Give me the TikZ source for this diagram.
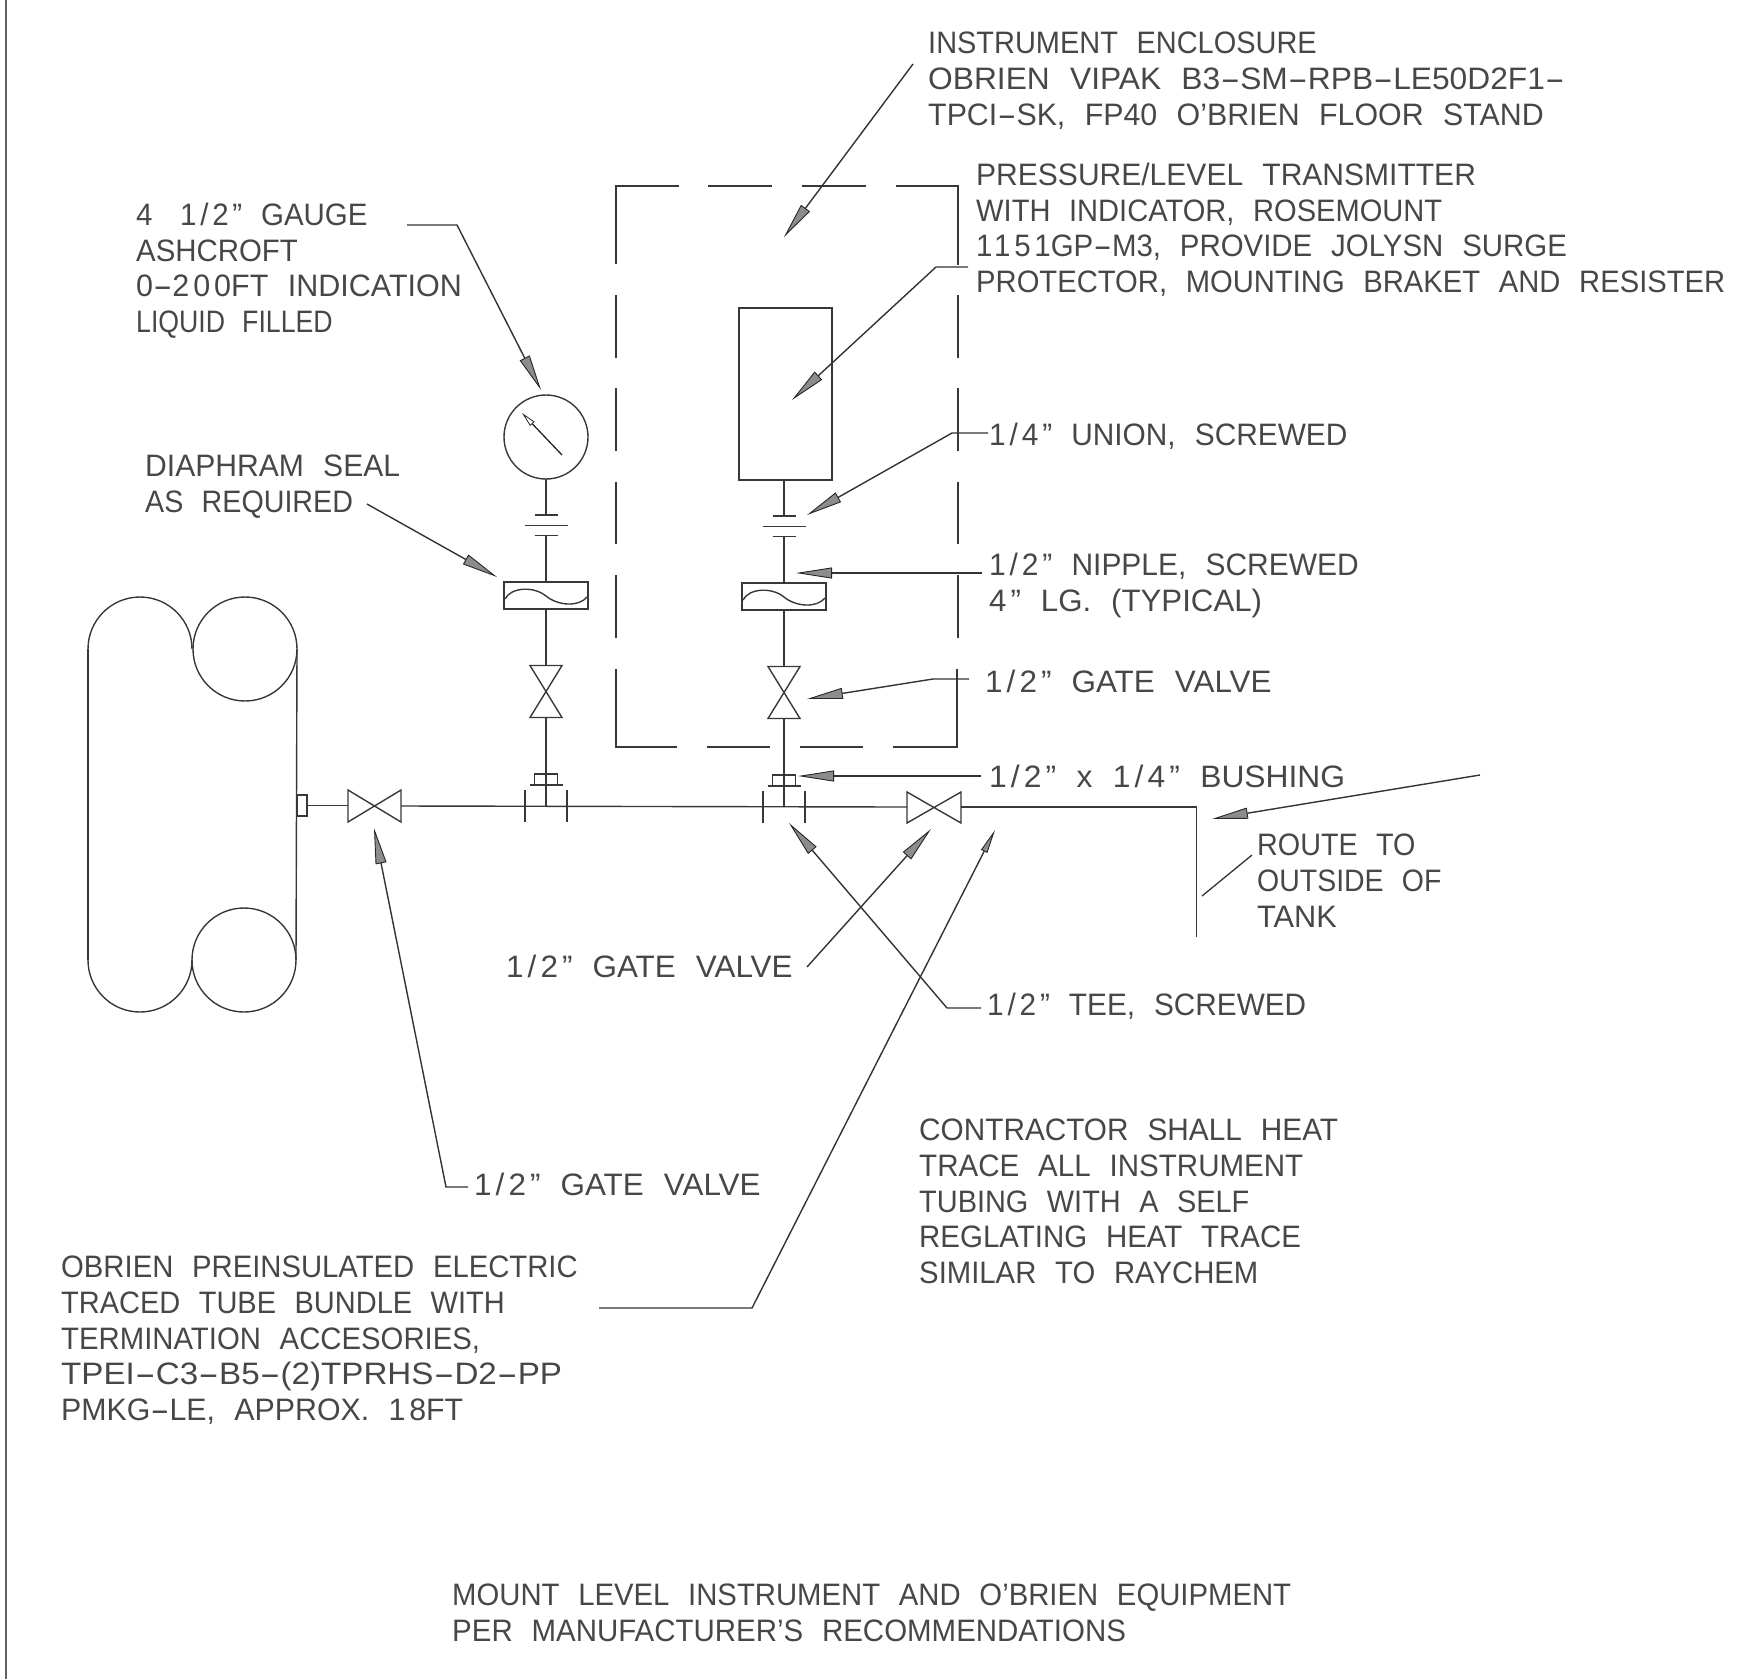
\documentclass[tikz,border=0pt]{standalone}
\usepackage{fontspec}
\usepackage{graphicx}
\setmainfont{Liberation Sans}[FakeStretch=0.93,WordSpace=2.3]
\usetikzlibrary{arrows.meta}
% one printed line, set to its measured width (given in the 1568-wide view)
\newlength\linewd
\newcommand\fl[2]{\setlength\linewd{\dimexpr #1pt*1123/1000\relax}\resizebox{\linewd}{\height}{#2}}
% the drawing's long dash and its widely spaced figures
\newcommand\hy{\scalebox{1.9}[1]{-}}
\newcommand\frc[1]{{\addfontfeature{LetterSpace=12}#1}}
\tikzset{
  x=1pt,y=-1pt,
  pipe/.style={line width=1.4pt,draw=black!78},
  lab/.style={anchor=north west,inner sep=0pt,align=left,text=black!72,
    font=\fontsize{31}{35.6}\selectfont},
  leader/.style={line width=1.4pt,draw=black!80,
    -{Triangle[length=36pt,width=11pt,fill=black!45,color=black!85,line width=.9pt]}},
  leaderthin/.style={line width=1.4pt,draw=black!80,
    -{Triangle[length=24pt,width=7pt,fill=black!45,color=black!85,line width=.9pt]}},
  plainleader/.style={line width=1.3pt,draw=black!80},
  dashrule/.style={line width=1.4pt,draw=black!78}
}
\begin{document}
\begin{tikzpicture}
\useasboundingbox (0,0) rectangle (1761,1679);
% page edge
\draw[line width=1.8pt,draw=black!62] (6,0) -- (6,1679);
% tank
\draw[pipe] (88,649) arc[start angle=180,end angle=0,radius=52pt];
\draw[pipe] (88,960) arc[start angle=180,end angle=360,radius=52pt];
\draw[pipe] (88,649) -- (88,960);
\draw[pipe] (297,649) -- (296,960);
\draw[pipe] (245,649) circle[radius=52pt];
\draw[pipe] (244,960) circle[radius=52pt];
\draw[pipe] (297,795) rectangle (307,816);
% main pipe
\draw[pipe] (307,805.5) -- (348,805.5);
\draw[pipe] (348,790) -- (401,822) -- (401,790) -- (348,822) -- cycle;
\draw[pipe] (401,806) -- (907,807);
\draw[pipe] (907,792) -- (961,823) -- (961,792) -- (907,823) -- cycle;
\draw[pipe] (961,807) -- (1196.5,807) -- (1196.5,937);
% vertical instrument branches
\foreach \cx/\dy in {546/0,784/1}{
  \begin{scope}[shift={(\cx,\dy)}]
    \draw[pipe] (0,535.5) -- (0,582);
    \draw[pipe] (-11.5,515) -- (11.5,515);
    \draw[pipe] (-21.5,525.5) -- (21.5,525.5);
    \draw[pipe] (-11.5,535.5) -- (11.5,535.5);
    \draw[pipe] (-42,582) rectangle (42,609);
    \draw[pipe] (-41,599) .. controls (-35,587) and (-12,586) .. (0,596) .. controls (12,606) and (33,607) .. (41,597);
    \draw[pipe] (0,609) -- (0,665.5);
    \draw[pipe] (-16,665.5) -- (16,717.5) -- (-16,717.5) -- (16,665.5) -- cycle;
    \draw[pipe] (0,717.5) -- (0,785);
    \draw[pipe] (-11.5,785) -- (-11.5,774) -- (11.5,774) -- (11.5,785);
    \draw[pipe] (-16.5,785) -- (16.5,785);
    \draw[pipe] (0,785) -- (0,806);
    \draw[pipe] (-21,790) -- (-21,822);
    \draw[pipe] (21,790) -- (21,822);
  \end{scope}
}
% gauge
\draw[pipe] (546,437) circle[radius=42pt];
\draw[pipe] (546,479) -- (546,515);
\coordinate (needleA) at (562,455);
\coordinate (needleB) at (522,413);
\draw[line width=1.3pt,draw=black!85,-{Triangle[length=15pt,width=6pt,open,line width=.8pt]}] (needleA) -- (needleB);
% transmitter
\draw[pipe] (739,308) rectangle (832,480);
\draw[pipe] (784,480) -- (784,516);
% enclosure (dashed)
\draw[dashrule] (616,264) -- (616,186) -- (679,186);
\draw[dashrule] (708,186) -- (772,186);
\draw[dashrule] (802,186) -- (866,186);
\draw[dashrule] (896,186) -- (958,186) -- (958,265);
\foreach \ya/\yb in {295/358,388/451,482/544,575/638}{
  \draw[dashrule] (616,\ya) -- (616,\yb);
  \draw[dashrule] (958,\ya) -- (958,\yb);
}
\draw[dashrule] (616,669) -- (616,747) -- (677,747);
\draw[dashrule] (707,747) -- (770,747);
\draw[dashrule] (800,747) -- (863,747);
\draw[dashrule] (893,747) -- (957,747) -- (957,669);
% labels
\node[lab] (lEncl) at (928,32) {\fl{346}{INSTRUMENT ENCLOSURE}\\\fl{567}{OBRIEN VIPAK B3\hy SM\hy RPB\hy LE50D2F1\hy}\\\fl{548}{TPCI\hy SK, FP40 O'BRIEN FLOOR STAND}};
\node[lab] (lXmit) at (976,163) {\fl{445}{PRESSURE/LEVEL TRANSMITTER}\\\fl{415}{WITH INDICATOR, ROSEMOUNT}\\\fl{526}{\frc{1151}GP\hy M3, PROVIDE JOLYSN SURGE}\\\fl{667}{PROTECTOR, MOUNTING BRAKET AND RESISTER}};
\node[lab] (lGauge) at (136,203) {\fl{206}{\frc{4 1/2"} GAUGE}\\\fl{144}{ASHCROFT}\\\fl{290}{\frc{0\hy 200}FT INDICATION}\\\fl{175}{LIQUID FILLED}};
\node[lab] (lSeal) at (145,455) {\fl{227}{DIAPHRAM SEAL}\\\fl{185}{AS REQUIRED}};
\node[lab] (lUnion) at (989,423) {\fl{319}{\frc{1/4"} UNION, SCREWED}};
\node[lab] (lNip) at (989,553) {\fl{329}{\frc{1/2"} NIPPLE, SCREWED}\\\fl{243}{\frc{4"} LG. (TYPICAL)}};
\node[lab] (lGateR) at (985,670) {\fl{255}{\frc{1/2"} GATE VALVE}};
\node[lab] (lBush) at (989,765) {\fl{317}{\frc{1/2"} x \frc{1/4"} BUSHING}};
\node[lab] (lRoute) at (1257,834) {\fl{141}{ROUTE TO}\\\fl{164}{OUTSIDE OF}\\\fl{71}{TANK}};
\node[lab] (lTee) at (987,993) {\fl{284}{\frc{1/2"} TEE, SCREWED}};
\node[lab] (lGateM) at (506,955) {\fl{255}{\frc{1/2"} GATE VALVE}};
\node[lab] (lGateL) at (474,1173) {\fl{255}{\frc{1/2"} GATE VALVE}};
\node[lab] (lNote) at (919,1119) {\fl{373}{CONTRACTOR SHALL HEAT}\\\fl{342}{TRACE ALL INSTRUMENT}\\\fl{294}{TUBING WITH A SELF}\\\fl{340}{REGLATING HEAT TRACE}\\\fl{302}{SIMILAR TO RAYCHEM}};
\node[lab] (lTube) at (61,1256) {\fl{460}{OBRIEN PREINSULATED ELECTRIC}\\\fl{395}{TRACED TUBE BUNDLE WITH}\\\fl{373}{TERMINATION ACCESORIES,}\\\fl{446}{TPEI\hy C3\hy B5\hy (2)TPRHS\hy D2\hy PP}\\\fl{358}{PMKG\hy LE, APPROX. \frc{18}FT}};
\node[lab] (lMount) at (452,1584) {\fl{747}{MOUNT LEVEL INSTRUMENT AND O'BRIEN EQUIPMENT}\\\fl{600}{PER MANUFACTURER'S RECOMMENDATIONS}};
% leader coordinates
\coordinate (aEnclS) at (913,64);      \coordinate (aEnclT) at (784,237);
\coordinate (aXmitS) at (968,267);     \coordinate (aXmitB) at (936,267);  \coordinate (aXmitT) at (792,400);
\coordinate (aGaugeS) at (407,225);    \coordinate (aGaugeB) at (457,225); \coordinate (aGaugeT) at (541,390);
\coordinate (aSealS) at (367,504);     \coordinate (aSealT) at (497,577);
\coordinate (aUnionS) at (988,433);    \coordinate (aUnionB) at (952,433); \coordinate (aUnionT) at (807,515);
\coordinate (aNipS) at (982,573);      \coordinate (aNipT) at (796,573);
\coordinate (aGateRS) at (969,679);    \coordinate (aGateRB) at (933,679); \coordinate (aGateRT) at (807,699);
\coordinate (aBushS) at (981,776);     \coordinate (aBushT) at (798,776);
\coordinate (aRouteS) at (1480,775);   \coordinate (aRouteT) at (1212,819);
\coordinate (aRteA) at (1252,855);     \coordinate (aRteB) at (1202,896);
\coordinate (aTeeS) at (981,1008);     \coordinate (aTeeB) at (947,1008);  \coordinate (aTeeT) at (789,823);
\coordinate (aGateMS) at (807,967);    \coordinate (aGateMT) at (931,829);
\coordinate (aGateLS) at (468,1187);   \coordinate (aGateLB) at (446,1187);\coordinate (aGateLT) at (374,828);
\coordinate (aTubeS) at (599,1308);    \coordinate (aTubeB) at (752,1308); \coordinate (aTubeT) at (995,830);
% leaders
\draw[leader] (aEnclS) -- (aEnclT);
\draw[leader] (aXmitS) -- (aXmitB) -- (aXmitT);
\draw[leader] (aGaugeS) -- (aGaugeB) -- (aGaugeT);
\draw[leader] (aSealS) -- (aSealT);
\draw[leader] (aUnionS) -- (aUnionB) -- (aUnionT);
\draw[leader] (aNipS) -- (aNipT);
\draw[leader] (aGateRS) -- (aGateRB) -- (aGateRT);
\draw[leader] (aBushS) -- (aBushT);
\draw[leader] (aRouteS) -- (aRouteT);
\draw[plainleader] (aRteA) -- (aRteB);
\draw[leader] (aTeeS) -- (aTeeB) -- (aTeeT);
\draw[leader] (aGateMS) -- (aGateMT);
\draw[leader] (aGateLS) -- (aGateLB) -- (aGateLT);
\draw[leaderthin] (aTubeS) -- (aTubeB) -- (aTubeT);
\end{tikzpicture}
\end{document}
